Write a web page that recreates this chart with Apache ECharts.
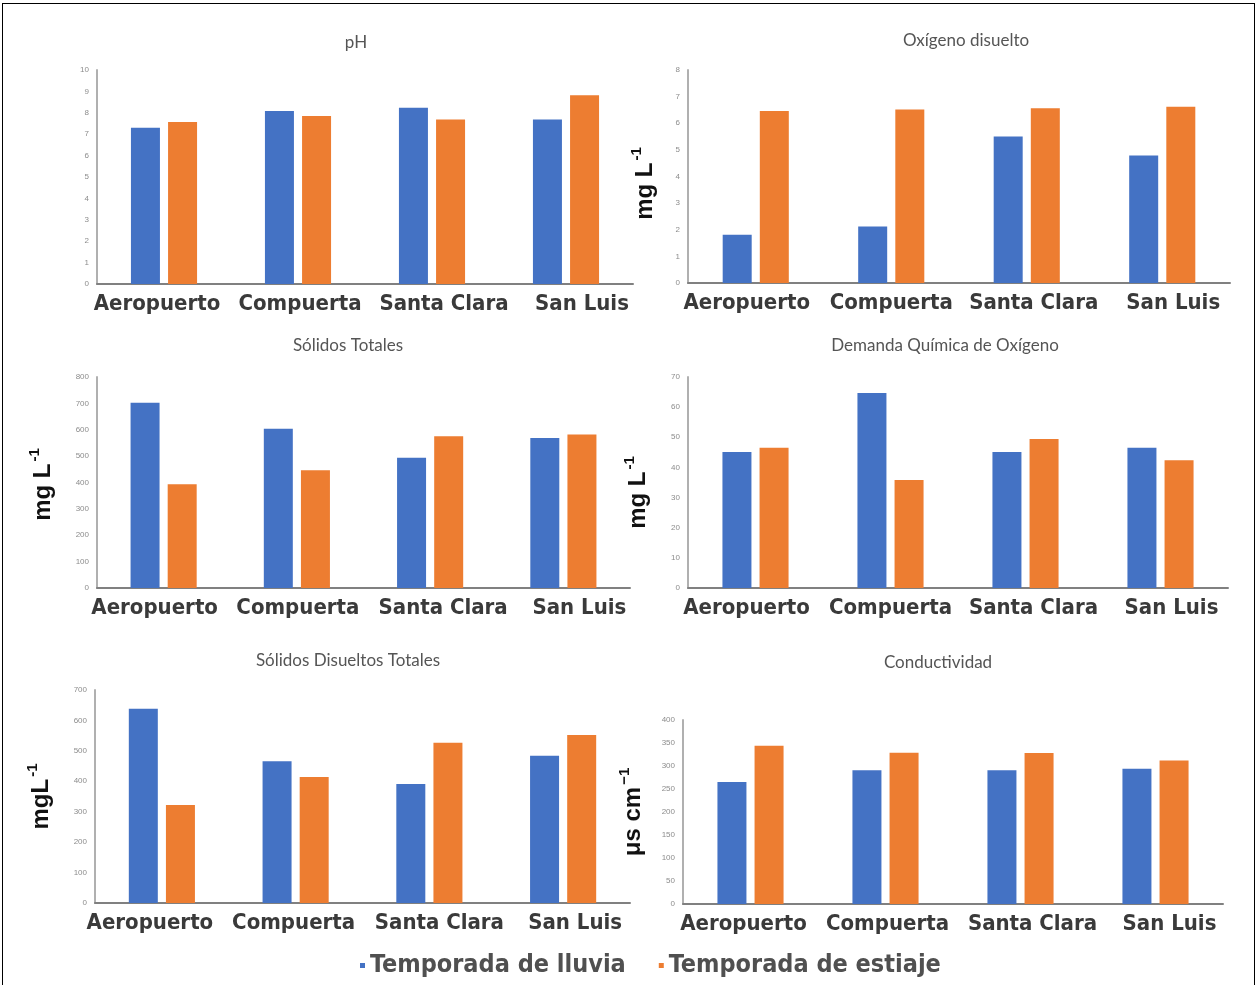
<!DOCTYPE html>
<html>
<head>
<meta charset="utf-8">
<script src="https://cdn.jsdelivr.net/npm/echarts@6/dist/echarts.min.js"></script>
<style>
html,body{margin:0;padding:0;background:#fff;}
#frame{position:absolute;left:2px;top:3px;width:1253px;height:990px;border:1px solid #000;box-sizing:border-box;}
#chart{position:absolute;left:0;top:0;width:1260px;height:985px;}
</style>
</head>
<body>
<div id="frame"></div>
<div id="chart"></div>
<script>
const categories = ['Aeropuerto', 'Compuerta', 'Santa Clara', 'San Luis'];
const seriesNames = ['Temporada de lluvia', 'Temporada de estiaje'];
const panelTitles = ['pH', 'Oxígeno disuelto', 'Sólidos Totales', 'Demanda Química de Oxígeno', 'Sólidos Disueltos Totales', 'Conductividad'];
const unitMain = ['', 'mg L', 'mg L', 'mg L', 'mgL', 'μs cm'];
const unitSup = ['', '-1', '-1', '-1', '-1', '−1'];

const phLluvia = [7.3, 8.08, 8.24, 7.69];
const phEstiaje = [7.57, 7.85, 7.69, 8.82];
const odLluvia = [1.81, 2.12, 5.5, 4.79];
const odEstiaje = [6.46, 6.52, 6.56, 6.62];
const stLluvia = [702, 604, 494, 569];
const stEstiaje = [393, 446, 575, 582];
const dqoLluvia = [45.1, 64.7, 45.1, 46.5];
const dqoEstiaje = [46.5, 35.8, 49.4, 42.4];
const sdtLluvia = [638, 466, 391, 484];
const sdtEstiaje = [322, 414, 527, 552];
const condLluvia = [265, 291, 291, 294];
const condEstiaje = [344, 329, 328, 312];

const yMax = [10, 8, 800, 70, 700, 400];
const yInterval = [1, 1, 100, 10, 100, 50];

const lluvia = [phLluvia, odLluvia, stLluvia, dqoLluvia, sdtLluvia, condLluvia];
const estiaje = [phEstiaje, odEstiaje, stEstiaje, dqoEstiaje, sdtEstiaje, condEstiaje];

// layout (styling only)
const grids = [
  {left: 97, top: 70, width: 536, height: 214},
  {left: 688, top: 70, width: 542, height: 213},
  {left: 97, top: 377, width: 533, height: 211},
  {left: 688, top: 377, width: 540, height: 211},
  {left: 95, top: 690, width: 535, height: 213},
  {left: 683, top: 720, width: 540, height: 184}
];
const titlePos = [[356, 43], [966, 41], [348, 346], [945, 346], [348, 661], [938, 663]];
const nameGaps = [0, 31, 42, 38, 42, 38];
const namePad = [[0,0,0,0], [0,14,0,0], [0,4,0,0], [0,20,0,0], [0,0,0,0], [0,0,0,0]];
const labelShift = [
  [-7, 2, 12, 16],
  [-9, 0, 7, 11],
  [-9, 1, 13, 16],
  [-9, 0, 8, 11],
  [-12, -2, 10, 12],
  [-7, 2, 12, 14]
];

const BLUE = '#4472C4', ORANGE = '#ED7D31';

function richFor(i) {
  const r = {};
  labelShift[i].forEach((s, k) => {
    r['c' + k] = {
      fontFamily: 'DejaVu Sans Condensed', fontWeight: 'bold', fontSize: 22, color: '#3a3a3a',
      padding: s >= 0 ? [0, 0, 0, 2 * s] : [0, -2 * s, 0, 0]
    };
  });
  return r;
}

const option = {
  animation: false,
  color: [BLUE, ORANGE],
  grid: grids.map(g => Object.assign({containLabel: false}, g)),
  legend: {
    data: seriesNames,
    bottom: 7,
    left: 360,
    padding: 0,
    icon: 'rect',
    itemWidth: 5,
    itemHeight: 5,
    itemGap: 33,
    textStyle: {fontFamily: 'DejaVu Sans Condensed', fontWeight: 'bold', fontSize: 25, color: '#505050'}
  },
  graphic: titlePos.map((p, i) => ({
    type: 'text', x: p[0], y: p[1],
    style: {text: panelTitles[i], textAlign: 'center', textVerticalAlign: 'middle',
      font: '17px Lato', fill: '#555555'}
  })),
  xAxis: grids.map((g, i) => ({
    type: 'category', gridIndex: i, data: categories,
    axisTick: {show: false},
    axisLine: {lineStyle: {color: '#808080', width: 2}},
    axisLabel: {
      margin: 9, interval: 0,
      formatter: (v, idx) => '{c' + idx + '|' + v + '}',
      rich: richFor(i)
    }
  })),
  yAxis: grids.map((g, i) => ({
    type: 'value', gridIndex: i, min: 0, max: yMax[i], interval: yInterval[i],
    splitLine: {show: false},
    axisTick: {show: false},
    axisLine: {show: true, lineStyle: {color: '#b0b0b0', width: 2}},
    axisLabel: {fontSize: 8, color: '#8c8c8c', margin: 8},
    name: unitMain[i] ? '{a|' + unitMain[i] + '}{b|' + unitSup[i] + '}' : '',
    nameLocation: 'middle',
    nameRotate: 90,
    nameGap: nameGaps[i],
    nameTextStyle: {
      padding: namePad[i],
      rich: {
        a: {fontFamily: 'Liberation Sans', fontWeight: 'bold', fontSize: 24, color: '#111', lineHeight: 28, verticalAlign: 'bottom'},
        b: {fontFamily: 'Liberation Sans', fontWeight: 'bold', fontSize: 15, color: '#111', lineHeight: 28, verticalAlign: 'top', padding: [0,0,10,2]}
      }
    }
  })),
  series: []
};

for (let i = 0; i < 6; i++) {
  option.series.push({
    name: seriesNames[0], type: 'bar', xAxisIndex: i, yAxisIndex: i,
    data: lluvia[i], barWidth: 29, barGap: '28%', itemStyle: {color: BLUE}
  });
  option.series.push({
    name: seriesNames[1], type: 'bar', xAxisIndex: i, yAxisIndex: i,
    data: estiaje[i], barWidth: 29, barGap: '28%', itemStyle: {color: ORANGE}
  });
}

const chart = echarts.init(document.getElementById('chart'), null, {renderer: 'canvas'});
chart.setOption(option);
</script>
</body>
</html>
